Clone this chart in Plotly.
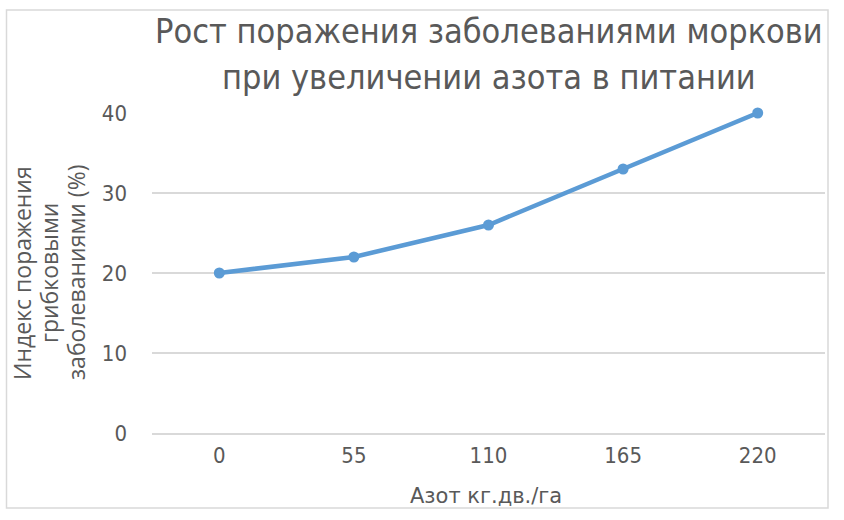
import plotly.graph_objects as go

categories = ["0", "55", "110", "165", "220"]
values = [20, 22, 26, 33, 40]
y_ticks = [0, 10, 20, 30, 40]

title_lines = ["Рост поражения заболеваниями моркови", "при увеличении азота в питании"]
x_title = "Азот кг.дв./га"
y_title_lines = ["Индекс поражения", "грибковыми", "заболеваниями (%)"]

GRAY = "#595959"
COND = "DejaVu Sans Condensed, sans-serif"

# plot area in pixels: x 152..825, y 113..433
L, R, T, B = 152, 825, 113, 433
W, H = R - L, B - T

def px(x):
    return (x - L) / W

def py(y):
    return (B - y) / H

fig = go.Figure()
fig.add_trace(go.Scatter(
    x=categories, y=values, mode="lines+markers",
    line=dict(color="#5B9BD5", width=4.5),
    marker=dict(color="#5B9BD5", size=11),
    cliponaxis=False,
    hoverinfo="skip", showlegend=False,
))

annotations = []
for line, yc in zip(title_lines, [31, 77]):
    annotations.append(dict(text=line, xref="paper", yref="paper", x=0.5, y=py(yc),
                            xanchor="center", yanchor="middle", showarrow=False,
                            font=dict(family=COND, size=34, color=GRAY)))
for line, xc in zip(y_title_lines, [22, 49, 76]):
    annotations.append(dict(text=line, xref="paper", yref="paper", x=px(xc), y=0.5,
                            xanchor="center", yanchor="middle", textangle=-90,
                            showarrow=False,
                            font=dict(family="Open Sans, DejaVu Sans", size=23, color=GRAY)))
annotations.append(dict(text=x_title, xref="paper", yref="paper", x=0.497, y=py(496),
                        xanchor="center", yanchor="middle", showarrow=False,
                        font=dict(family="DejaVu Sans", size=21, color=GRAY)))

fig.update_layout(
    width=844, height=520,
    margin=dict(l=L, r=844 - R, t=T, b=520 - B),
    paper_bgcolor="white", plot_bgcolor="white",
    xaxis=dict(type="category", range=[-0.5, 4.5], showgrid=False,
               showline=True, linecolor="#D9D9D9", linewidth=1.5,
               ticks="", tickfont=dict(family=COND, size=22, color=GRAY),
               ticklabelstandoff=2),
    yaxis=dict(range=[0, 40], tickvals=y_ticks, showgrid=True,
               gridcolor="#D9D9D9", gridwidth=1.5, zeroline=False,
               showline=False, ticks="",
               tickfont=dict(family=COND, size=22, color=GRAY),
               ticklabelstandoff=24),
    annotations=annotations,
    shapes=[dict(type="rect", xref="paper", yref="paper",
                 x0=px(6.5), x1=px(828), y0=py(508), y1=py(10),
                 line=dict(color="#D9D9D9", width=1.5), fillcolor="rgba(0,0,0,0)")],
)

fig.write_html("out.html", config={"displayModeBar": False},
               post_script="document.body.style.margin='0';")
